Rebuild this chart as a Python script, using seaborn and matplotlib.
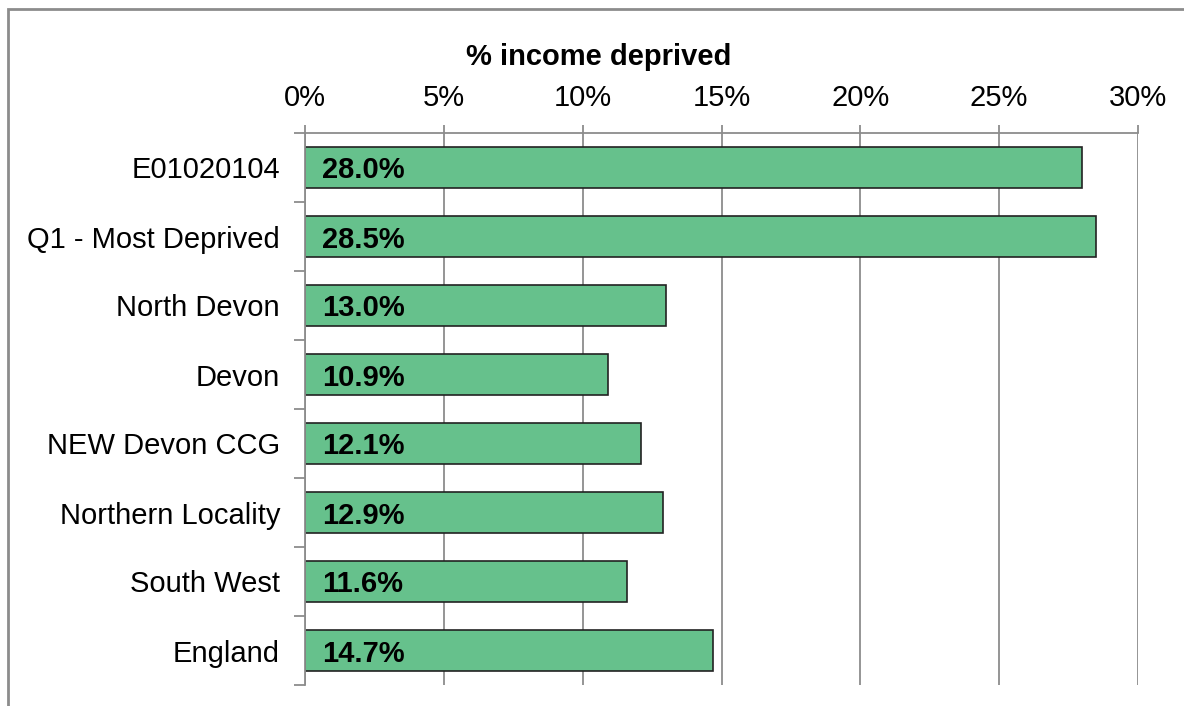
import numpy as np
import pandas as pd
import seaborn as sns
import matplotlib.pyplot as plt
from matplotlib.patches import Rectangle
from matplotlib.ticker import FuncFormatter, FixedLocator

# data
areas = ["E01020104", "Q1 - Most Deprived", "North Devon", "Devon",
         "NEW Devon CCG", "Northern Locality", "South West", "England"]
income_deprived = [28.0, 28.5, 13.0, 10.9, 12.1, 12.9, 11.6, 14.7]
x_ticks = [0, 5, 10, 15, 20, 25, 30]

df = pd.DataFrame({"area": areas, "pct": income_deprived})

sns.set_style("white")
plt.rcParams["font.family"] = ["Liberation Sans", "DejaVu Sans"]
plt.rcParams["text.color"] = "black"

fig = plt.figure(figsize=(11.84, 7.06), dpi=100)
ax = fig.add_axes([305/1184, 1 - 685/706, (1138 - 305)/1184, (685 - 133)/706])

sns.barplot(data=df, x="pct", y="area", orient="h", color="#66c18c",
            saturation=1, edgecolor="#222222", linewidth=1.2, width=0.58, ax=ax)

ax.set_xlim(0, 30)
ax.set_ylim(len(areas) - 0.5, -0.5)
ax.xaxis.set_major_locator(FixedLocator(x_ticks))
ax.xaxis.set_major_formatter(FuncFormatter(lambda v, p: f"{v:.0f}%"))
ax.xaxis.tick_top()
ax.grid(axis="x", color="#8c8c8c", linewidth=1.3)
ax.set_axisbelow(True)
ax.tick_params(axis="x", top=True, length=6, width=1.3, color="#8c8c8c",
               labelsize=21, pad=9, labelcolor="black")
ax.tick_params(axis="y", which="major", length=0, labelsize=21, pad=18,
               labelcolor="black")
ax.yaxis.set_minor_locator(FixedLocator(np.arange(-0.5, len(areas), 1)))
ax.tick_params(axis="y", which="minor", left=True, length=8, width=1.3,
               color="#8c8c8c")
ax.set_xlabel("")
ax.set_ylabel("")

for side in ["right", "bottom"]:
    ax.spines[side].set_visible(False)
for side in ["left", "top"]:
    ax.spines[side].set_color("#8c8c8c")
    ax.spines[side].set_linewidth(1.3)

for i, v in enumerate(income_deprived):
    ax.annotate(f"{v:.1f}%", xy=(0, i), xytext=(17, -3), textcoords="offset pixels",
                ha="left", va="center", fontsize=21, fontweight="bold", color="black")

fig.text(599/1184, 1 - 57/706, "% income deprived", ha="center", va="center",
         fontsize=21, fontweight="bold", color="black")

# outer chart frame (runs off the right and bottom edges)
fig.patches.append(Rectangle((8/1184, -0.1), 1.1, 1 - 9/706 + 0.1,
                             transform=fig.transFigure, fill=False,
                             edgecolor="#8c8c8c", linewidth=2))

plt.savefig("out.png", dpi=100)
